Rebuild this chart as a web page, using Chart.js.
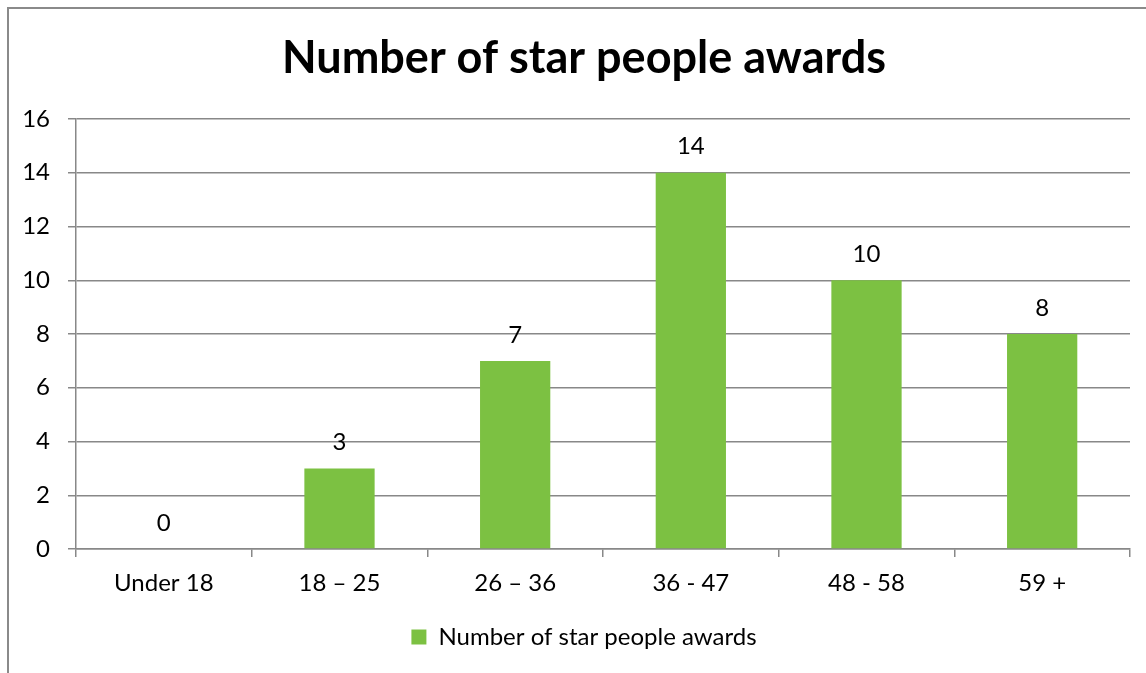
<!DOCTYPE html>
<html>
<head>
<meta charset="utf-8">
<script src="https://cdn.jsdelivr.net/npm/chart.js@4/dist/chart.umd.min.js"></script>
<style>
  html, body { margin: 0; padding: 0; background: #fff; overflow: hidden; }
  #frame { position: absolute; left: 7px; top: 7px; width: 1200px; height: 700px; border: 2px solid #8a8a8a; box-sizing: border-box; }
  #wrap { position: absolute; left: 0; top: 0; width: 1146px; height: 673px; }
</style>
</head>
<body>
<div id="frame"></div>
<div id="wrap"><canvas id="chart"></canvas></div>
<script>
const categories = ['Under 18', '18 \u2013 25', '26 \u2013 36', '36 - 47', '48 - 58', '59 +'];
const awards = [0, 3, 7, 14, 10, 8];
const seriesName = 'Number of star people awards';
const chartTitle = 'Number of star people awards';
const yTicks = [0, 2, 4, 6, 8, 10, 12, 14, 16];

const FONT = 'Lato, "Open Sans", sans-serif';
const GRID = '#888888';

// etiquetele cu valori deasupra barelor
const valueLabels = {
  id: 'valueLabels',
  afterDatasetsDraw(chart) {
    const c = chart.ctx;
    const meta = chart.getDatasetMeta(0);
    c.save();
    c.font = '24px ' + FONT;
    c.fillStyle = '#000';
    c.textAlign = 'center';
    c.textBaseline = 'middle';
    meta.data.forEach((bar, i) => {
      c.fillText(String(chart.data.datasets[0].data[i]), bar.x, bar.y - 26);
    });
    c.restore();
  }
};

// titlul si legenda sunt putin mutate spre dreapta, ca in original
const shiftBlocks = {
  id: 'shiftBlocks',
  afterLayout(chart) {
    if (chart.titleBlock) chart.titleBlock.left += 38;
    if (chart.legend) chart.legend.left += 38;
  }
};

const ctx = document.getElementById('chart').getContext('2d');
const chart = new Chart(ctx, {
  type: 'bar',
  data: {
    labels: categories,
    datasets: [{
      label: seriesName,
      data: awards,
      backgroundColor: '#7cc142',
      categoryPercentage: 1,
      barPercentage: 0.4
    }]
  },
  options: {
    responsive: true,
    maintainAspectRatio: false,
    animation: false,
    layout: { padding: { left: 0, right: 16, top: 10, bottom: 14 } },
    plugins: {
      title: {
        display: true,
        text: chartTitle,
        color: '#000',
        font: { family: FONT, size: 45, weight: 'bold', lineHeight: 1.2 },
        padding: { top: 21, bottom: 34 }
      },
      legend: {
        position: 'bottom',
        labels: {
          color: '#000',
          font: { family: FONT, size: 24 },
          boxWidth: 15,
          boxHeight: 15,
          padding: 10
        }
      },
      tooltip: { enabled: false }
    },
    scales: {
      x: {
        offset: true,
        grid: { offset: true, drawOnChartArea: false, drawTicks: true, tickLength: 8, color: GRID, lineWidth: 1.5 },
        border: { color: GRID, width: 1.5 },
        ticks: { color: '#000', font: { family: FONT, size: 24 }, padding: 12 },
        afterFit(scale) { scale.height = 66; }
      },
      y: {
        min: 0,
        max: 16,
        afterBuildTicks(scale) { scale.ticks = yTicks.map(v => ({ value: v })); },
        grid: { color: GRID, lineWidth: 1.5, tickLength: 8 },
        border: { color: GRID, width: 1.5 },
        ticks: { color: '#000', font: { family: FONT, size: 24 }, padding: 18 },
        afterFit(scale) { scale.width = 76; }
      }
    }
  },
  plugins: [valueLabels, shiftBlocks]
});
</script>
</body>
</html>
